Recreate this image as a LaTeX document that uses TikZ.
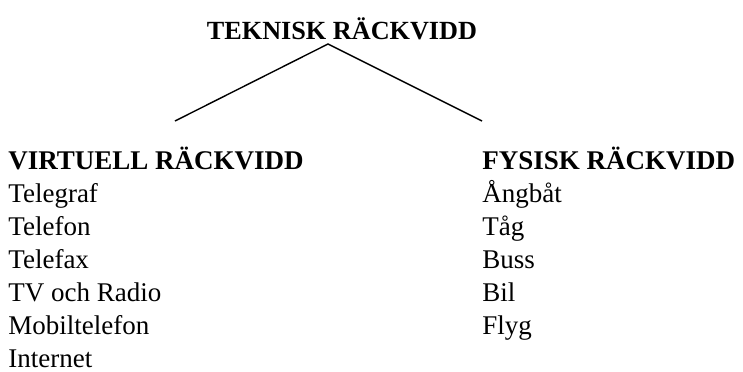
\documentclass[tikz,border=0pt]{standalone}
\usepackage{fontspec}
\setmainfont{Liberation Serif}
\usepackage{tikz}

\begin{document}
\begin{tikzpicture}[x=0.5pt,y=-0.5pt,
  head/.style={font=\fontsize{13.5}{16}\selectfont\bfseries,inner sep=0pt,anchor=base west},
  item/.style={font=\fontsize{13.5}{16}\selectfont,inner sep=0pt,anchor=base west}]
\useasboundingbox (0,0) rectangle (743,371);

% top heading
\node[head,anchor=base,font=\fontsize{13.1}{16}\selectfont\bfseries] (tek) at (342,39) {TEKNISK RÄCKVIDD};

% the two branches
\coordinate (top) at (328,44);
\coordinate (vleft) at (175,121);
\coordinate (fright) at (482,121);
\draw[line width=0.7pt] (vleft) -- (top) -- (fright);

% left column
\node[head] (virt) at (8,169) {VIRTUELL RÄCKVIDD};
\foreach \t [count=\i] in {Telegraf,Telefon,Telefax,TV och Radio,Mobiltelefon,Internet}
  \node[item] (v\i) at (8,169+33*\i) {\t};

% right column
\node[head] (fys) at (482,169) {FYSISK RÄCKVIDD};
\foreach \t [count=\i] in {Ångbåt,Tåg,Buss,Bil,Flyg}
  \node[item] (f\i) at (482,169+33*\i) {\t};
\end{tikzpicture}
\end{document}
